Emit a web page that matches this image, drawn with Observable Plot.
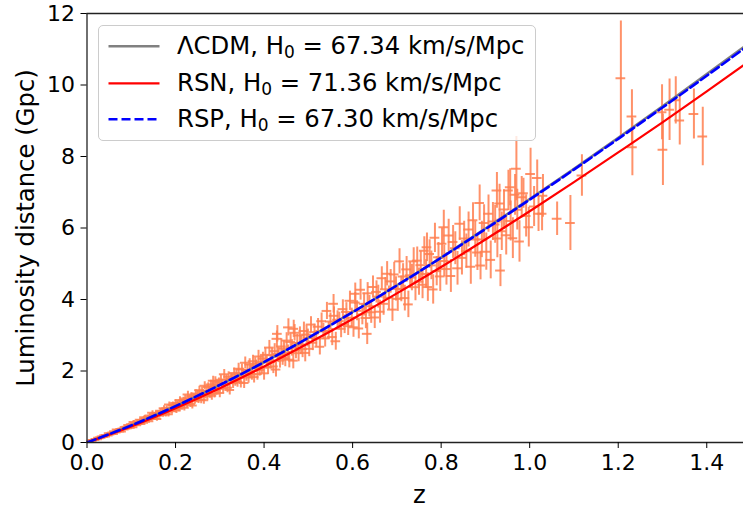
<!DOCTYPE html>
<html>
<head>
<meta charset="utf-8">
<script src="https://cdn.jsdelivr.net/npm/d3@7"></script>
<script src="https://cdn.jsdelivr.net/npm/@observablehq/plot@0.6"></script>
<style>
  html, body { margin: 0; padding: 0; background: #fff; }
  #wrap { position: relative; width: 743px; height: 510px; font-family: "DejaVu Sans", sans-serif; }
  #legend { position: absolute; left: 98px; top: 25px; width: 438px; height: 116px;
    border: 1px solid #cccccc; border-radius: 5px; background: rgba(255,255,255,0.8); box-sizing: border-box; }
  .row { position: absolute; left: 0; height: 30px; }
  .row svg { position: absolute; left: 9px; top: 0; }
  .row span { position: absolute; left: 78px; top: 0; white-space: nowrap; font-size: 24.3px; color: #000; line-height: 30px; }
  sub { font-size: 70%; vertical-align: -0.25em; line-height: 0; }
</style>
</head>
<body>
<div id="wrap"></div>
<script>
// ---- model curves (luminosity distance in Gpc) ----
const curveZ = [0, 0.1, 0.2, 0.3, 0.4, 0.5, 0.6, 0.7, 0.8, 0.9, 1.0, 1.1, 1.2, 1.3, 1.4, 1.5];
const lcdmDL = [0, 0.478, 1.016, 1.609, 2.249, 2.930, 3.648, 4.399, 5.178, 5.983, 6.810, 7.658, 8.524, 9.408, 10.306, 11.218];
const rsnDL  = [0, 0.451, 0.961, 1.520, 2.127, 2.775, 3.455, 4.170, 4.909, 5.677, 6.469, 7.283, 8.115, 8.956, 9.822, 10.702];
const rspDL  = [0, 0.478, 1.017, 1.609, 2.248, 2.928, 3.644, 4.392, 5.168, 5.969, 6.792, 7.634, 8.494, 9.369, 10.259, 11.162];

// ---- supernova data: redshift, luminosity distance (Gpc), 1-sigma error (Gpc) ----
const sneZ = [
0.010,0.012,0.014,0.016,0.018,0.020,0.022,0.024,0.026,0.028,
0.030,0.032,0.034,0.036,0.038,0.040,0.042,0.044,0.046,0.048,
0.050,0.052,0.054,0.056,0.058,0.060,0.062,0.064,0.066,0.068,
0.070,0.072,0.074,0.076,0.078,0.080,0.082,0.084,0.086,0.088,
0.090,0.092,0.094,0.096,0.098,
0.100,0.102,0.104,0.106,0.108,0.110,0.112,0.114,0.116,0.118,
0.120,0.122,0.124,0.126,0.128,0.130,0.132,0.134,0.136,0.138,
0.140,0.142,0.144,0.146,0.148,0.150,0.152,0.154,0.156,0.158,
0.160,0.162,0.164,0.166,0.168,0.170,0.172,0.174,0.176,0.178,
0.180,0.182,0.184,0.186,0.188,0.190,0.192,0.194,0.196,0.198,
0.200,0.202,0.204,0.206,0.208,0.210,0.212,0.214,0.216,0.218,
0.220,0.222,0.224,0.226,0.228,0.230,0.232,0.234,0.236,0.238,
0.240,0.242,0.244,0.246,0.248,0.250,0.252,0.254,0.256,0.258,
0.260,0.262,0.264,0.266,0.268,0.270,0.272,0.274,0.276,0.278,
0.280,0.282,0.284,0.285,0.286,0.288,0.290,0.292,0.294,0.296,0.298,
0.300,0.3025,0.305,0.3075,0.310,0.3125,0.315,0.3175,0.320,0.3225,
0.325,0.3275,0.330,0.3325,0.335,0.3375,0.340,0.3425,0.345,0.3475,
0.350,0.3525,0.355,0.3575,0.360,0.3625,0.365,0.3675,0.370,0.3725,
0.375,0.3775,0.380,0.3825,0.385,0.3875,0.390,0.3925,0.395,0.3975,
0.400,0.403,0.406,0.409,0.412,0.415,0.418,0.421,0.424,0.427,
0.429,0.430,0.430,0.433,0.436,0.439,0.442,0.445,0.448,0.451,
0.454,0.455,0.457,0.460,0.463,0.466,0.467,0.469,0.472,0.475,
0.478,0.481,0.484,0.487,0.490,0.493,0.496,0.499,
0.502,0.506,0.510,0.514,0.518,0.522,0.526,0.530,0.534,0.538,
0.542,0.546,0.550,0.554,0.557,0.558,0.562,0.566,0.570,0.574,
0.578,0.582,0.586,0.590,0.594,0.598,
0.602,0.606,0.606,0.610,0.614,0.618,0.622,0.626,0.630,0.633,
0.634,0.638,0.642,0.646,0.650,0.654,0.658,0.662,0.666,0.670,
0.674,0.678,0.682,0.686,0.690,0.694,0.698,
0.702,0.706,0.710,0.714,0.718,0.722,0.726,0.730,0.734,0.738,
0.742,0.746,0.750,0.754,0.758,0.762,0.766,0.768,0.770,0.774,
0.778,0.782,0.786,0.790,0.794,0.798,
0.802,0.806,0.807,0.812,0.817,0.822,0.827,0.832,0.837,0.842,
0.847,0.852,0.857,0.862,0.867,0.872,0.877,0.882,0.887,0.889,
0.892,0.897,
0.902,0.907,0.912,0.917,0.922,0.926,0.927,0.932,0.934,0.937,
0.942,0.947,0.952,0.956,0.957,0.962,0.967,0.970,0.972,0.977,
0.982,0.986,0.992,0.998,1.002,1.010,1.017,1.020,1.028,1.030,
1.062,1.092,1.118,
1.206,1.231,1.232,1.299,1.301,1.316,1.330,1.339,1.371,1.391
];
const sneDL = [
0.046,0.049,0.069,0.069,0.071,0.096,0.099,0.092,0.133,0.120,
0.138,0.131,0.166,0.160,0.160,0.200,0.168,0.211,0.212,0.197,
0.257,0.224,0.255,0.247,0.283,0.240,0.312,0.293,0.281,0.363,
0.315,0.348,0.310,0.379,0.309,0.382,0.384,0.366,0.437,0.393,
0.441,0.399,0.493,0.440,0.413,
0.507,0.483,0.424,0.575,0.489,0.535,0.486,0.590,0.544,0.526,
0.634,0.516,0.627,0.614,0.555,0.705,0.601,0.669,0.634,0.711,
0.592,0.755,0.696,0.655,0.833,0.712,0.776,0.680,0.820,0.659,
0.804,0.799,0.753,0.887,0.789,0.876,0.784,0.959,0.848,0.787,
0.959,0.907,0.788,1.060,0.892,0.970,0.874,1.052,0.964,0.925,
1.107,0.893,1.081,1.050,0.945,1.191,1.008,1.118,1.052,1.175,
0.972,1.233,1.130,1.060,1.342,1.140,1.236,1.079,1.297,1.037,
1.259,1.246,1.169,1.373,1.217,1.346,1.200,1.464,1.289,1.192,
1.449,1.365,1.182,1.585,1.330,1.441,1.295,1.554,1.420,1.358,
1.622,1.305,1.572,1.730,1.524,1.367,1.718,1.452,1.604,1.506,1.677,
1.384,1.755,1.608,1.507,1.906,1.620,1.755,1.530,1.839,1.471,
1.785,1.764,1.654,1.941,1.720,1.900,1.694,2.065,1.817,1.680,
2.041,1.922,1.664,2.231,1.871,2.026,1.820,2.181,1.992,1.904,
2.275,1.830,2.204,2.135,1.914,2.406,2.031,2.244,2.105,2.345,
1.934,2.451,2.243,2.101,2.655,2.256,2.441,2.127,2.555,2.041,
2.900,2.475,3.040,2.445,2.291,2.686,2.379,2.628,2.340,2.851,
2.508,3.220,2.317,2.812,2.647,2.290,3.180,3.068,2.572,2.784,
2.499,2.994,2.734,2.613,3.118,2.506,3.018,2.923,
2.620,3.299,2.790,3.089,2.904,3.239,2.678,3.393,3.107,2.911,
3.680,3.126,3.384,2.949,3.880,3.544,2.832,3.434,3.395,3.181,
3.731,3.306,3.652,3.253,3.964,3.488,
3.223,4.160,3.914,3.685,3.189,4.273,3.582,3.879,3.483,3.040,
4.173,3.812,3.643,4.349,3.497,4.212,4.080,3.658,4.595,3.879,
4.285,4.720,4.048,4.507,3.717,4.701,4.296,
4.017,5.067,4.297,4.642,4.039,4.842,3.863,4.676,4.614,5.067,
4.345,5.087,4.498,4.960,4.412,5.367,4.714,5.460,4.348,5.271,
4.954,4.281,5.726,4.793,5.181,4.646,
5.558,6.020,5.077,4.852,5.792,4.658,5.610,5.434,4.872,6.121,
5.165,5.706,5.353,5.959,4.916,6.216,5.681,5.312,6.701,4.950,
5.681,6.138,
5.339,6.402,5.108,6.183,6.100,7.050,5.707,6.682,4.810,5.909,
6.518,5.796,7.052,7.140,6.194,5.715,6.927,7.660,6.511,5.625,
6.860,6.970,6.338,6.020,7.510,6.600,7.400,6.400,6.400,6.900,
6.260,6.140,7.470,
10.19,9.12,8.26,9.24,8.19,9.31,9.57,9.01,9.19,8.56
];
const sneErr = [
0.006,0.006,0.006,0.006,0.007,0.007,0.008,0.009,0.009,0.010,
0.011,0.012,0.012,0.013,0.014,0.015,0.015,0.016,0.017,0.018,
0.018,0.019,0.020,0.021,0.022,0.022,0.023,0.024,0.025,0.025,
0.026,0.027,0.028,0.029,0.029,0.030,0.031,0.032,0.033,0.033,
0.034,0.035,0.036,0.037,0.037,
0.038,0.039,0.040,0.041,0.042,0.042,0.043,0.044,0.045,0.046,
0.047,0.047,0.048,0.049,0.050,0.051,0.052,0.052,0.053,0.054,
0.055,0.056,0.057,0.058,0.058,0.059,0.060,0.061,0.062,0.063,
0.064,0.065,0.065,0.066,0.067,0.068,0.069,0.070,0.071,0.072,
0.072,0.073,0.074,0.075,0.076,0.077,0.078,0.079,0.080,0.080,
0.081,0.082,0.083,0.084,0.085,0.086,0.087,0.088,0.089,0.090,
0.090,0.091,0.092,0.093,0.094,0.095,0.096,0.097,0.098,0.099,
0.100,0.101,0.102,0.103,0.104,0.105,0.106,0.106,0.107,0.108,
0.109,0.110,0.111,0.112,0.113,0.114,0.115,0.116,0.117,0.118,
0.119,0.120,0.121,0.125,0.122,0.123,0.124,0.125,0.126,0.127,0.128,
0.129,0.130,0.131,0.132,0.134,0.135,0.136,0.138,0.139,0.140,
0.141,0.143,0.144,0.145,0.146,0.148,0.149,0.150,0.151,0.153,
0.154,0.155,0.157,0.158,0.159,0.160,0.162,0.163,0.164,0.166,
0.167,0.168,0.170,0.171,0.172,0.173,0.175,0.176,0.177,0.179,
0.19,0.19,0.19,0.20,0.20,0.20,0.20,0.20,0.21,0.21,
0.22,0.21,0.23,0.21,0.21,0.22,0.22,0.22,0.22,0.22,
0.22,0.24,0.23,0.23,0.23,0.23,0.24,0.23,0.23,0.24,
0.24,0.24,0.24,0.24,0.25,0.25,0.25,0.25,
0.22,0.22,0.22,0.22,0.23,0.23,0.23,0.23,0.23,0.24,
0.24,0.24,0.24,0.24,0.26,0.25,0.25,0.25,0.25,0.25,
0.26,0.26,0.26,0.26,0.27,0.27,
0.28,0.30,0.28,0.28,0.29,0.29,0.29,0.30,0.30,0.30,
0.30,0.30,0.31,0.31,0.31,0.31,0.32,0.32,0.32,0.32,
0.33,0.34,0.33,0.33,0.33,0.34,0.34,
0.35,0.35,0.36,0.36,0.36,0.36,0.37,0.37,0.37,0.38,
0.38,0.38,0.38,0.39,0.39,0.39,0.40,0.40,0.40,0.40,
0.40,0.41,0.41,0.41,0.41,0.42,
0.44,0.48,0.44,0.45,0.45,0.46,0.46,0.46,0.47,0.47,
0.48,0.48,0.48,0.49,0.49,0.49,0.50,0.50,0.50,0.40,
0.51,0.51,
0.52,0.52,0.53,0.53,0.53,0.50,0.54,0.54,0.45,0.54,
0.55,0.55,0.56,0.52,0.56,0.57,0.57,0.90,0.57,0.58,
0.58,0.42,0.59,0.55,0.72,0.56,0.50,0.50,0.48,0.60,
0.47,0.77,0.58,
1.60,0.75,0.80,0.77,1.00,0.86,0.66,0.69,0.70,0.82
];
const zErr = 0.011;

const sne = sneZ.map((z, i) => ({z, dl: sneDL[i], err: sneErr[i]}));
const curves = curveZ.map((z, i) => ({z, lcdm: lcdmDL[i], rsn: rsnDL[i], rsp: rspDL[i]}));

const errColor = "#ff7f50";
const fontFamily = "DejaVu Sans, sans-serif";

const chart = Plot.plot({
  width: 743,
  height: 510,
  marginLeft: 86.5,
  marginRight: 0,
  marginTop: 13,
  marginBottom: 68,
  style: {fontFamily, fontSize: "22px", color: "#000", background: "#fff"},
  x: {domain: [0, 1.483]},
  y: {domain: [0, 12]},
  marks: [
    Plot.ruleX(sne, {x: "z", y1: d => d.dl - d.err, y2: d => d.dl + d.err, stroke: errColor, strokeWidth: 2, strokeOpacity: 0.85, clip: true}),
    Plot.ruleY(sne, {y: "dl", x1: d => d.z - zErr, x2: d => d.z + zErr, stroke: errColor, strokeWidth: 2, strokeOpacity: 0.85, clip: true}),
    Plot.line(curves, {x: "z", y: "lcdm", stroke: "#808080", strokeWidth: 2.4, curve: "monotone-x", clip: true}),
    Plot.line(curves, {x: "z", y: "rsn", stroke: "#ff0000", strokeWidth: 2.2, curve: "monotone-x", clip: true}),
    Plot.line(curves, {x: "z", y: "rsp", stroke: "#0000ff", strokeWidth: 2.6, strokeDasharray: "9,4", curve: "monotone-x", clip: true}),
    Plot.ruleX([0], {stroke: "#222", strokeWidth: 1.3}),
    Plot.ruleY([0], {stroke: "#222", strokeWidth: 1.3}),
    Plot.ruleY([12], {stroke: "#222", strokeWidth: 1.3}),
    Plot.axisX({ticks: [0, 0.2, 0.4, 0.6, 0.8, 1.0, 1.2, 1.4], tickFormat: d3.format(".1f"), tickSize: 6, tickPadding: 6,
      label: null, fontSize: 22}),
    Plot.text(["z"], {frameAnchor: "bottom", dx: 4, dy: 53, fontSize: 24.3, lineAnchor: "middle"}),
    Plot.axisY({ticks: [0, 2, 4, 6, 8, 10, 12], tickSize: 6, tickPadding: 6,
      label: null, fontSize: 22}),
    Plot.text(["Luminosity distance (Gpc)"], {frameAnchor: "left", dx: -61, rotate: -90, fontSize: 24.3, textAnchor: "middle", lineAnchor: "middle"})
  ]
});

const wrap = document.getElementById("wrap");
wrap.appendChild(chart);

// legend
const legendItems = [
  {name: "ΛCDM", h0: "67.34", color: "#808080", dash: null, width: 2.4},
  {name: "RSN", h0: "71.36", color: "#ff0000", dash: null, width: 2.2},
  {name: "RSP", h0: "67.30", color: "#0000ff", dash: "9,4", width: 2.6}
];
const legend = document.createElement("div");
legend.id = "legend";
legendItems.forEach((it, i) => {
  const row = document.createElement("div");
  row.className = "row";
  row.style.top = (5 + 36.5 * i) + "px";
  row.style.width = "100%";
  row.innerHTML = `<svg width="52" height="30"><line x1="0.5" x2="51.5" y1="15.3" y2="15.3" stroke="${it.color}" stroke-width="${it.width}" ${it.dash ? `stroke-dasharray="${it.dash}"` : ""}/></svg>` +
    `<span>${it.name}, H<sub>0</sub> = ${it.h0} km/s/Mpc</span>`;
  legend.appendChild(row);
});
wrap.appendChild(legend);
</script>
</body>
</html>
